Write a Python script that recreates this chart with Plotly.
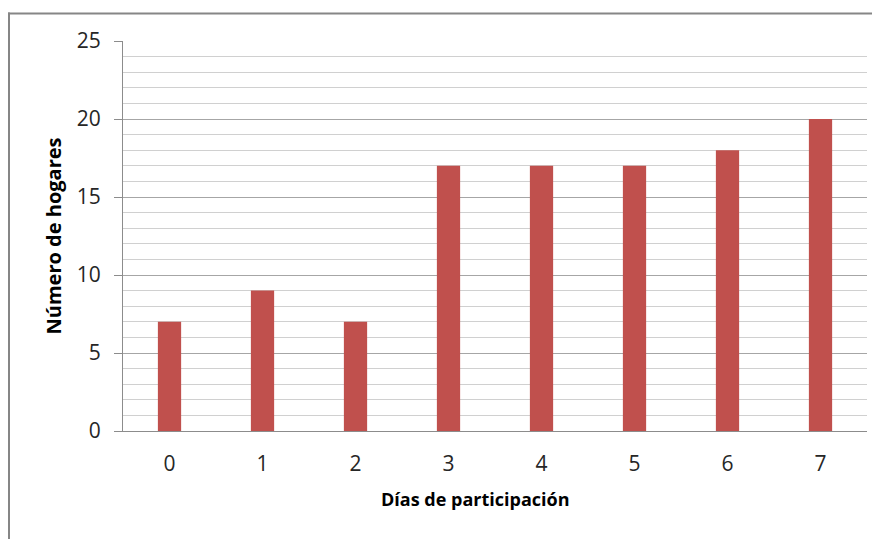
import plotly.graph_objects as go

categorias = ["0", "1", "2", "3", "4", "5", "6", "7"]
hogares = [7, 9, 7, 17, 17, 17, 18, 20]
y_ticks = [0, 5, 10, 15, 20, 25]

# The page body has an 8px margin, so the figure starts at (8, 8) on screen.
OFF = 8
W, H = 880 - OFF, 539 - OFF
L, R, T, B = 123 - OFF, 13, 41 - OFF, 108
pw, ph = W - L - R, H - T - B

def px_x(x):
    return (x - OFF - L) / pw

def px_y(y):
    return 1 - (y - OFF - T) / ph

fig = go.Figure(go.Bar(
    x=categorias, y=hogares,
    marker=dict(color="#C0504D", line=dict(width=0)),
    width=0.25,
))

font_family = "Open Sans, Liberation Sans, sans-serif"

fig.update_layout(
    width=W, height=H,
    margin=dict(l=L, r=R, t=T, b=B),
    paper_bgcolor="white", plot_bgcolor="white",
    showlegend=False,
    font=dict(family=font_family, color="#262626"),
    xaxis=dict(
        type="category",
        showline=True, linecolor="#8c8c8c", linewidth=1,
        ticks="", showgrid=False,
        tickfont=dict(size=21, color="#262626"),
        ticklabelstandoff=14,
    ),
    yaxis=dict(
        range=[0, 25], tickvals=y_ticks,
        showline=True, linecolor="#8c8c8c", linewidth=1,
        ticks="outside", ticklen=8, tickcolor="#8c8c8c", tickwidth=1,
        showgrid=True, gridcolor="#a6a6a6", gridwidth=1,
        minor=dict(dtick=1, showgrid=True, gridcolor="#d0d0d0", gridwidth=1, ticks=""),
        tickfont=dict(size=21, color="#262626"),
        ticklabelstandoff=9,
        zeroline=False,
        title=dict(text="<b>Número de hogares</b>", font=dict(size=20, color="#000"), standoff=9),
    ),
    annotations=[
        dict(text="<b>Días de participación</b>", xref="paper", yref="paper",
             x=px_x(475), y=px_y(499), xanchor="center", yanchor="middle",
             showarrow=False, font=dict(size=18, color="#000")),
    ],
    shapes=[
        dict(type="line", xref="paper", yref="paper",
             x0=px_x(9), x1=px_x(9), y0=px_y(560), y1=px_y(12.5),
             line=dict(color="#868686", width=2)),
        dict(type="line", xref="paper", yref="paper",
             x0=px_x(8), x1=px_x(900), y0=px_y(13.5), y1=px_y(13.5),
             line=dict(color="#868686", width=2)),
    ],
)

fig.write_html("out.html")
